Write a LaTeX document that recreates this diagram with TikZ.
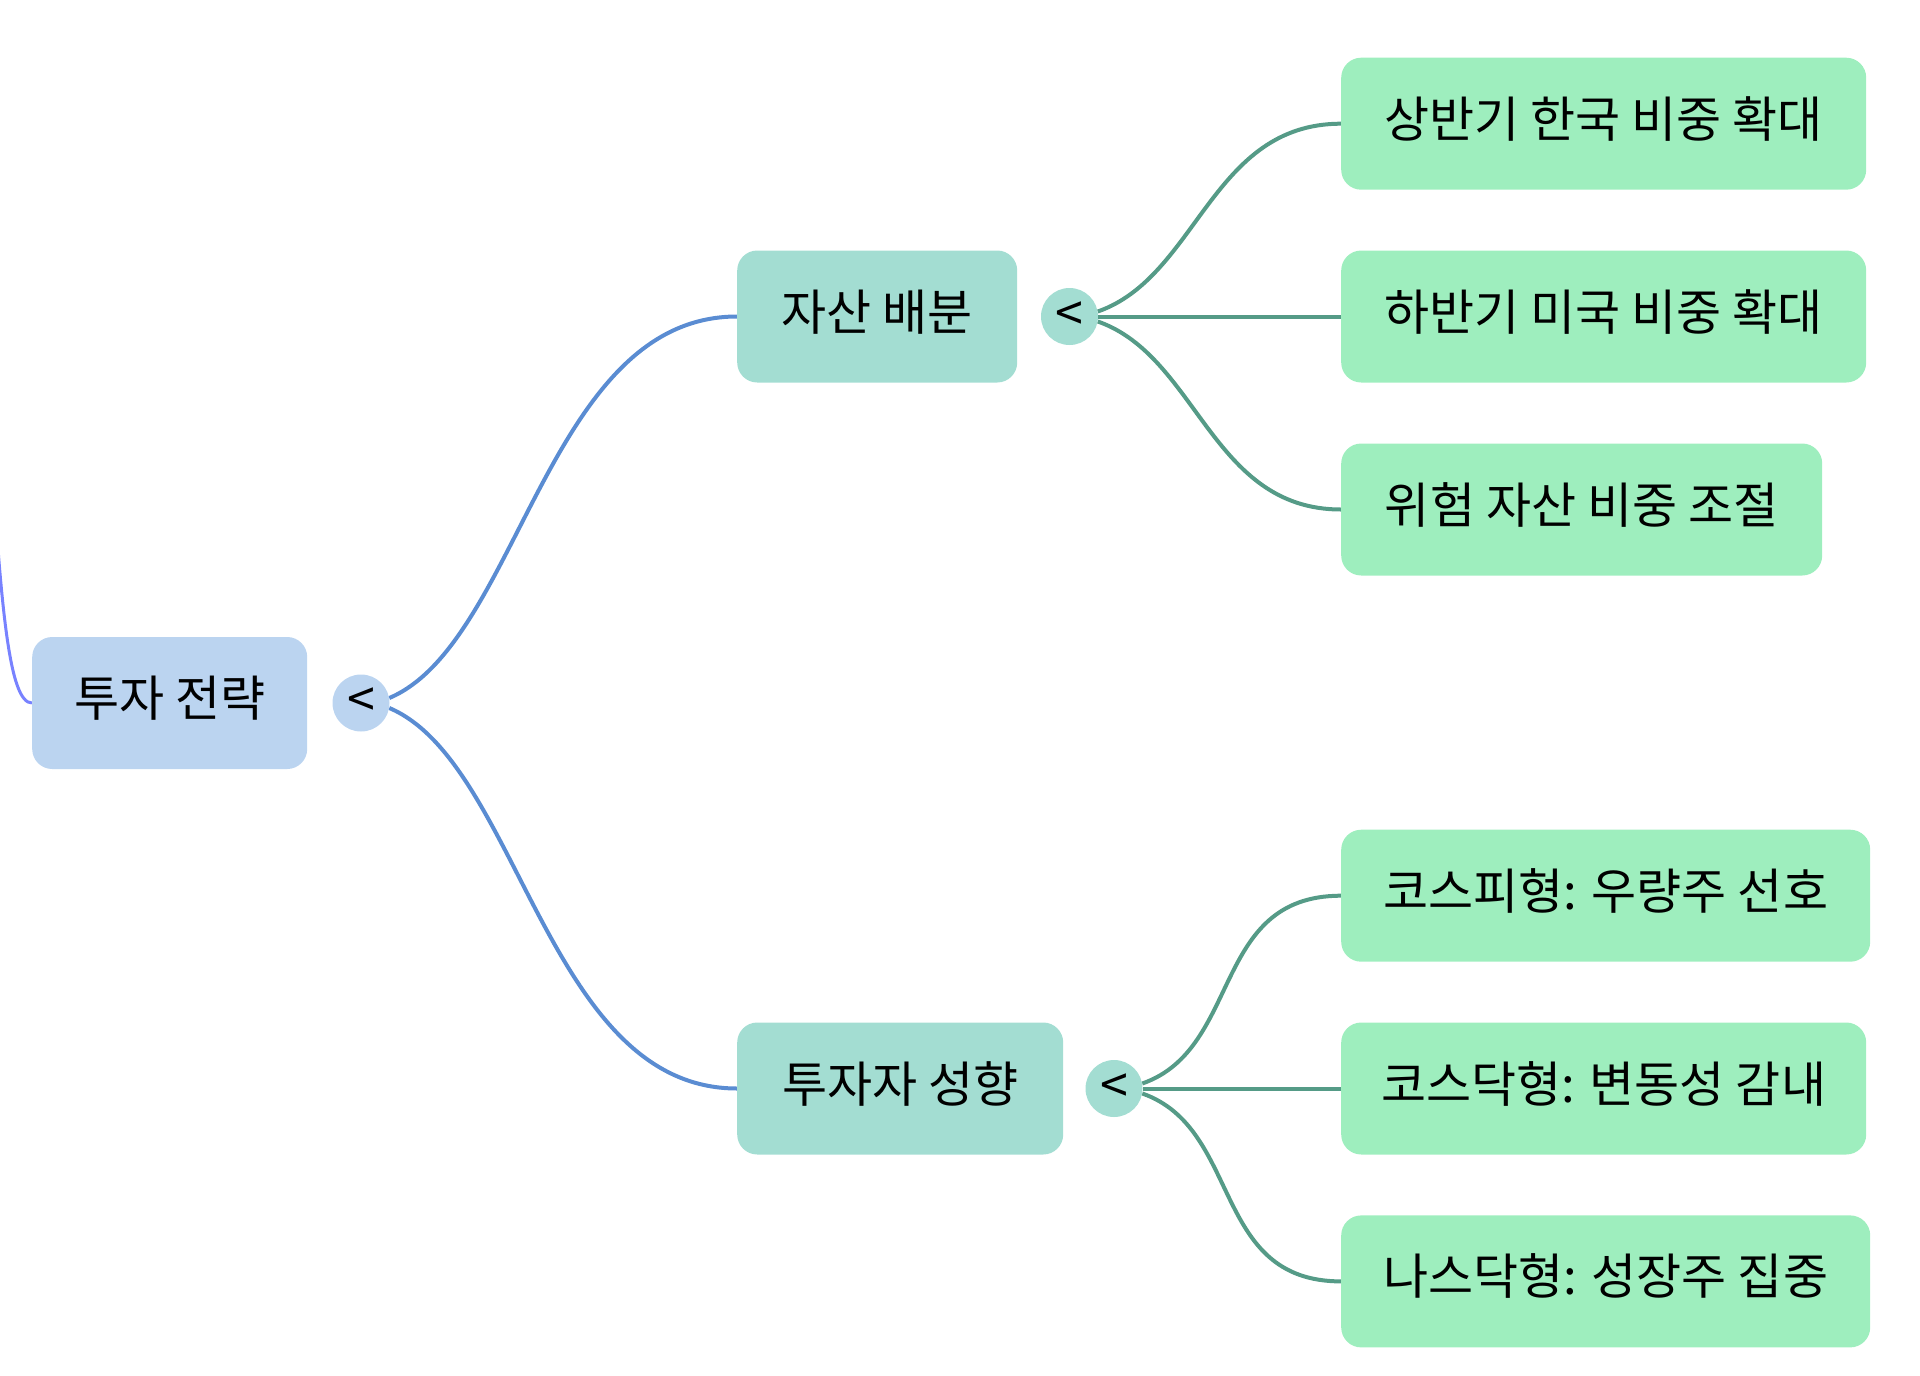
\documentclass[tikz,border=0pt]{standalone}
\usepackage{fontspec}
\setmainfont{Noto Sans CJK KR}
\usetikzlibrary{backgrounds}
\definecolor{rootc}{HTML}{BBD4F0}
\definecolor{midc}{HTML}{A3DDD2}
\definecolor{leafc}{HTML}{9EEEBE}
\definecolor{bluel}{HTML}{5A8CD2}
\definecolor{teall}{HTML}{559B87}
\definecolor{purplel}{HTML}{7882FF}
\begin{document}
\begin{tikzpicture}[x=1pt,y=-1pt,
  box/.style={rounded corners=20pt, minimum height=132pt, inner sep=0pt, anchor=west,
    font=\fontsize{49}{58}\selectfont, text=black, text height=33pt, text depth=6pt},
  rootbox/.style={box, fill=rootc},
  midbox/.style={box, fill=midc},
  leafbox/.style={box, fill=leafc},
  knob/.style={circle, minimum size=57pt, inner sep=0pt, font=\fontsize{50}{52}\selectfont},
  blueline/.style={draw=bluel, line width=4pt},
  tealline/.style={draw=teall, line width=4pt},
  purpleline/.style={draw=purplel, line width=3pt}]
\useasboundingbox (0,0) rectangle (1920,1376);
% nodes
\node[rootbox, minimum width=275pt] (root) at (32,703) {투자 전략};
\node[knob, fill=rootc] (rc) at (361,703) {<};
\node[midbox, minimum width=280pt] (m1) at (737,316.5) {자산 배분};
\node[knob, fill=midc] (c1) at (1069.5,316.5) {<};
\node[midbox, minimum width=326pt] (m2) at (737,1088.5) {투자자 성향};
\node[knob, fill=midc] (c2) at (1114,1088.5) {<};
\node[leafbox, minimum width=525pt] (l1) at (1341,123.7) {상반기 한국 비중 확대};
\node[leafbox, minimum width=525pt] (l2) at (1341,316.5) {하반기 미국 비중 확대};
\node[leafbox, minimum width=481pt] (l3) at (1341,509.5) {위험 자산 비중 조절};
\node[leafbox, minimum width=529pt] (l4) at (1341,895.7) {코스피형: 우량주 선호};
\node[leafbox, minimum width=525pt] (l5) at (1341,1088.5) {코스닥형: 변동성 감내};
\node[leafbox, minimum width=529pt] (l6) at (1341,1281.4) {나스닥형: 성장주 집중};
\coordinate (offparent) at (-12,390);
% connectors
\begin{pgfonlayer}{background}
\draw[purpleline] (offparent) .. controls (0,610) and (9,703) .. (root.west);
\draw[blueline] (rc.10) .. controls +(130,-55) and +(-190,0) .. (m1.west);
\draw[blueline] (rc.-10) .. controls +(130,55) and +(-190,0) .. (m2.west);
\draw[tealline] (c1.10) .. controls +(100,-35) and +(-130,0) .. (l1.west);
\draw[tealline] (c1.east) -- (l2.west);
\draw[tealline] (c1.-10) .. controls +(100,35) and +(-130,0) .. (l3.west);
\draw[tealline] (c2.10) .. controls +(100,-35) and +(-130,0) .. (l4.west);
\draw[tealline] (c2.east) -- (l5.west);
\draw[tealline] (c2.-10) .. controls +(100,35) and +(-130,0) .. (l6.west);
\end{pgfonlayer}
\end{tikzpicture}
\end{document}
